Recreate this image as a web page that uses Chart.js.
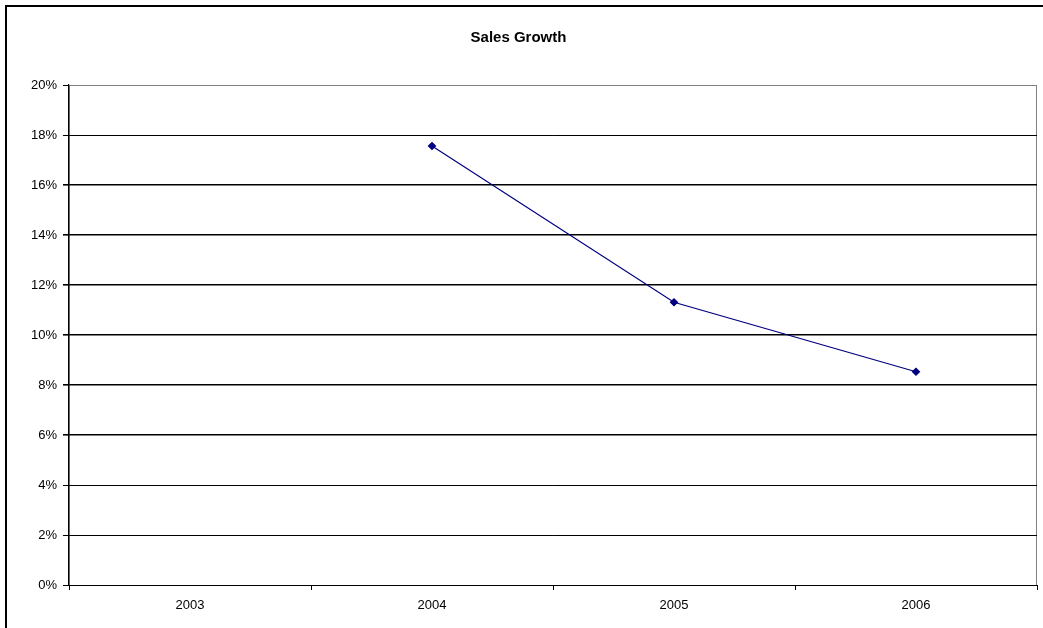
<!DOCTYPE html>
<html>
<head>
<meta charset="utf-8">
<script src="https://cdn.jsdelivr.net/npm/chart.js@4/dist/chart.umd.min.js"></script>
<style>
  html, body { margin: 0; padding: 0; background: #fff; overflow: hidden; }
  #wrap { position: relative; width: 1043px; height: 628px; }
  #frame { position: absolute; left: 5px; top: 5px; width: 2000px; height: 2000px;
           border-left: 2px solid #000; border-top: 2px solid #000; }
  canvas { position: absolute; left: 0; top: 0; }
</style>
</head>
<body>
<div id="wrap">
  <div id="frame"></div>
  <canvas id="c" width="1043" height="628"></canvas>
</div>
<script>
const categories = ['2003', '2004', '2005', '2006'];
const salesGrowth = [null, 17.56, 11.31, 8.53];
const yTicks = [0, 2, 4, 6, 8, 10, 12, 14, 16, 18, 20];
const chartTitle = 'Sales Growth';

const thinLines = [18, 4, 2, 0];

const framePlugin = {
  id: 'plotFrame',
  beforeDraw(chart) {
    const a = chart.chartArea, ctx = chart.ctx;
    ctx.save();
    ctx.strokeStyle = '#808080';
    ctx.lineWidth = 1;
    ctx.strokeRect(a.left + 0.5, a.top + 0.5, a.right - a.left - 1, a.bottom - a.top);
    ctx.restore();
  }
};

new Chart(document.getElementById('c'), {
  type: 'line',
  data: {
    labels: categories,
    datasets: [{
      label: 'Sales Growth',
      data: salesGrowth,
      borderColor: '#000080',
      backgroundColor: '#000080',
      borderWidth: 1.2,
      pointStyle: 'rectRot',
      pointRadius: 3.5,
      pointHoverRadius: 3.5,
      tension: 0,
      spanGaps: false
    }]
  },
  options: {
    responsive: false,
    animation: false,
    events: [],
    layout: { padding: { left: 0, right: 6, top: 0, bottom: 0 } },
    plugins: {
      legend: { display: false },
      tooltip: { enabled: false },
      title: {
        display: true,
        text: chartTitle,
        color: '#000',
        font: { family: 'Liberation Sans, Arial, sans-serif', size: 15, weight: 'bold', lineHeight: 1.2 },
        padding: { top: 29, bottom: 38 }
      }
    },
    scales: {
      x: {
        offset: true,
        grid: {
          offset: true,
          drawOnChartArea: false,
          drawTicks: true,
          tickLength: 5,
          color: '#000'
        },
        border: { display: true, color: '#000', width: 1 },
        ticks: {
          color: '#000',
          padding: 8,
          font: { family: 'Liberation Sans, Arial, sans-serif', size: 13 },
          maxRotation: 0
        },
        afterFit(scale) { scale.height = 43; }
      },
      y: {
        min: 0,
        max: 20,
        afterBuildTicks(scale) { scale.ticks = yTicks.map(v => ({ value: v })); },
        grid: {
          drawTicks: true,
          tickLength: 6,
          color: ctx => (ctx.tick && ctx.tick.value === 20) ? '#808080' : '#000',
          tickColor: '#000',
          lineWidth: ctx => (ctx.tick && (thinLines.includes(ctx.tick.value) || ctx.tick.value === 20)) ? 1 : 1.6
        },
        border: { display: true, color: '#000', width: 1.2 },
        ticks: {
          color: '#000',
          padding: 6,
          font: { family: 'Liberation Sans, Arial, sans-serif', size: 13 },
          callback: v => v + '%'
        },
        afterFit(scale) { scale.width = 69; }
      }
    }
  },
  plugins: [framePlugin]
});
</script>
</body>
</html>
